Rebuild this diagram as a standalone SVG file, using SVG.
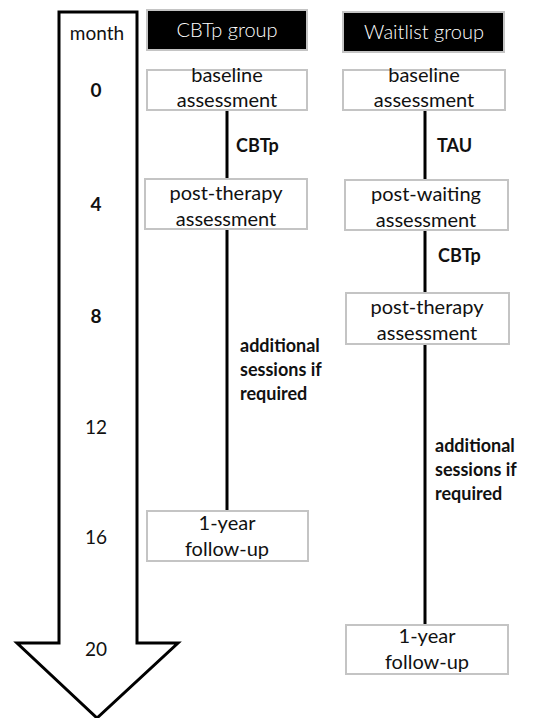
<svg xmlns="http://www.w3.org/2000/svg" width="534" height="718" viewBox="0 0 534 718">
<style>
  .box { fill: #ffffff; stroke: #c4c4c4; stroke-width: 2; }
  .hdr { fill: #000000; stroke: #c4c4c4; stroke-width: 2; }
  .t { font-family: Lato, "Liberation Sans", sans-serif; font-size: 20px; fill: #111; text-anchor: middle; }
  .th { font-family: Lato, "Liberation Sans", sans-serif; font-size: 20px; fill: #ffffff; text-anchor: middle; font-weight: 300; }
  .lbl { font-family: Lato, "Liberation Sans", sans-serif; font-size: 18px; fill: #111; font-weight: bold; }
  .num { font-family: Lato, "Liberation Sans", sans-serif; font-size: 19px; fill: #111; text-anchor: middle; }
  .conn { stroke: #000; stroke-width: 3; fill: none; }
</style>
<rect width="534" height="718" fill="#ffffff"/>
<g id="time-arrow">
  <path d="M59,12 L137,12 L137,643 L178,643 L97,718 L17,643 L59,643 Z" fill="#ffffff" stroke="#000" stroke-width="3" stroke-linejoin="miter"/>
  <text class="num" x="97" y="40" font-size="20">month</text>
  <text class="num" x="96" y="97" font-weight="bold">0</text>
  <text class="num" x="96" y="211" font-weight="bold">4</text>
  <text class="num" x="96" y="323" font-weight="bold">8</text>
  <text class="num" x="96" y="434">12</text>
  <text class="num" x="96" y="544">16</text>
  <text class="num" x="96" y="656">20</text>
</g>
<g id="connectors">
  <line class="conn" x1="227" y1="110" x2="227" y2="179"/>
  <line class="conn" x1="227" y1="230" x2="227" y2="511"/>
  <line class="conn" x1="425" y1="110" x2="425" y2="179"/>
  <line class="conn" x1="425" y1="230" x2="425" y2="293"/>
  <line class="conn" x1="425" y1="344" x2="425" y2="625"/>
  <text class="lbl" x="236" y="152">CBTp</text>
  <text class="lbl" x="437" y="152">TAU</text>
  <text class="lbl" x="438" y="262">CBTp</text>
  <text class="lbl" x="240" y="352">additional</text>
  <text class="lbl" x="240" y="376">sessions if</text>
  <text class="lbl" x="240" y="400">required</text>
  <text class="lbl" x="435" y="452">additional</text>
  <text class="lbl" x="435" y="476">sessions if</text>
  <text class="lbl" x="435" y="500">required</text>
</g>
<g id="cbtp-header">
  <rect class="hdr" x="147" y="10" width="160" height="40"/>
  <text class="th" x="227" y="37">CBTp group</text>
</g>
<g id="waitlist-header">
  <rect class="hdr" x="343" y="12" width="161" height="40"/>
  <text class="th" x="424" y="39">Waitlist group</text>
</g>
<g id="cbtp-baseline">
  <rect class="box" x="147" y="70" width="160" height="40"/>
  <text class="t" x="227" y="82">baseline</text>
  <text class="t" x="227" y="107">assessment</text>
</g>
<g id="waitlist-baseline">
  <rect class="box" x="343" y="70" width="162" height="40"/>
  <text class="t" x="424" y="82">baseline</text>
  <text class="t" x="424" y="107">assessment</text>
</g>
<g id="cbtp-post-therapy">
  <rect class="box" x="145" y="179" width="162" height="50"/>
  <text class="t" x="226" y="200">post-therapy</text>
  <text class="t" x="226" y="226">assessment</text>
</g>
<g id="waitlist-post-waiting">
  <rect class="box" x="345" y="180" width="163" height="50"/>
  <text class="t" x="426" y="201">post-waiting</text>
  <text class="t" x="426" y="227">assessment</text>
</g>
<g id="waitlist-post-therapy">
  <rect class="box" x="346" y="293" width="163" height="51"/>
  <text class="t" x="427" y="314">post-therapy</text>
  <text class="t" x="427" y="340">assessment</text>
</g>
<g id="cbtp-followup">
  <rect class="box" x="147" y="511" width="161" height="50"/>
  <text class="t" x="227" y="530">1-year</text>
  <text class="t" x="227" y="556">follow-up</text>
</g>
<g id="waitlist-followup">
  <rect class="box" x="346" y="625" width="162" height="49"/>
  <text class="t" x="427" y="643">1-year</text>
  <text class="t" x="427" y="669">follow-up</text>
</g>
</svg>
